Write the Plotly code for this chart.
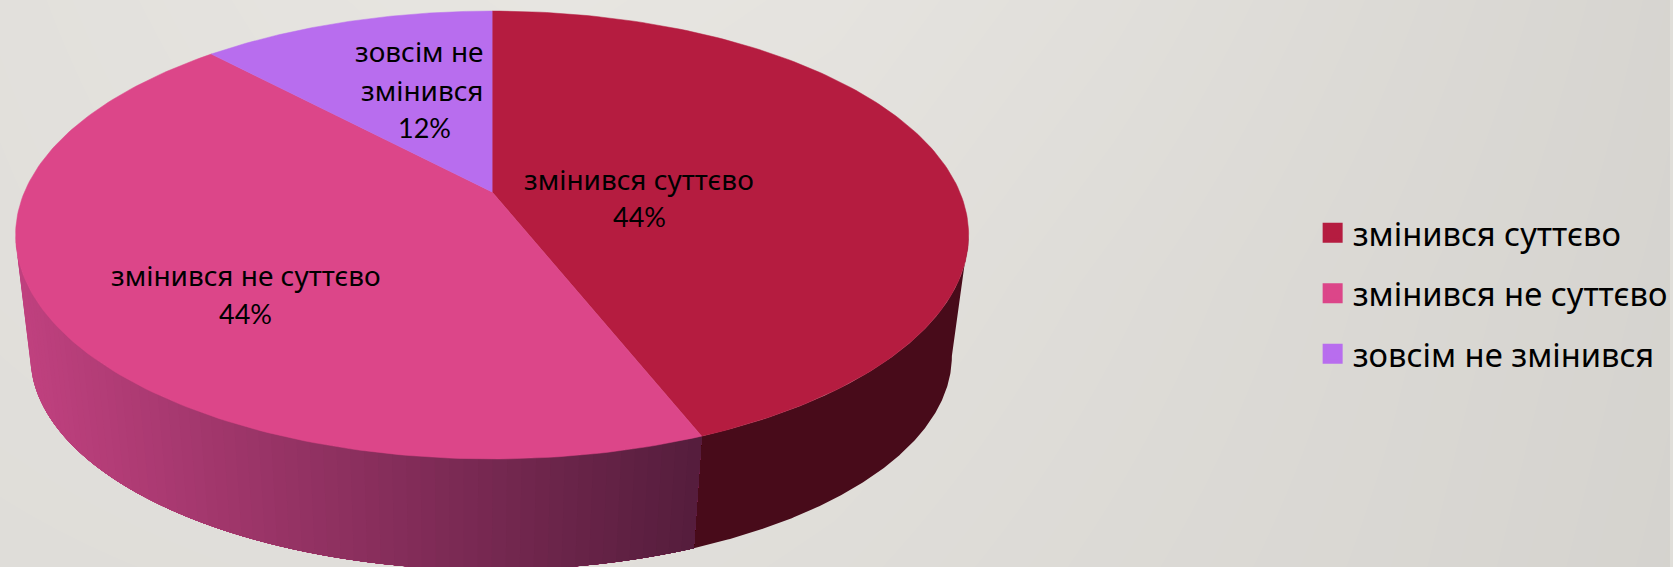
import numpy as np
import plotly.graph_objects as go

# Values
categories = ["змінився суттєво", "змінився не суттєво", "зовсім не змінився"]
percent = [44, 44, 12]
top_colors = ["#B51C40", "#DC4689", "#B86DEE"]

# Background tone, sampled coarsely over the slide (rows top to bottom)
bg_levels = [
    [228, 231, 233, 231, 227, 222, 217],
    [227, 229, 230, 228, 224, 220, 216],
    [225, 226, 227, 225, 222, 219, 215],
]

WIDTH, HEIGHT = 1673, 567
FONT = "Noto Sans"
PCT_FONT = "Lato"

# Pie projection in pixels: the apex sits above the ellipse centre (perspective)
CX, CY, RX, RY = 493, 192, 468.5, 215.7
PERSP = -0.192
BOT_CX, BOT_CY, BOT_RX, BOT_RY = 492, 315, 453, 206

WALL_DARK = "#480B1A"
WALL_LEFT = (192, 65, 127)
WALL_RIGHT = (85, 29, 60)


def top_rim(theta):
    u, v = np.sin(theta), -np.cos(theta)
    d = 1 + PERSP * v
    return CX + RX * u / d, CY + RY * v / d


def bottom_rim(theta):
    u, v = np.sin(theta), -np.cos(theta)
    d = 1 + PERSP * v
    return BOT_CX + BOT_RX * u / d, BOT_CY + BOT_RY * v / d


def wall_piece(start, end, color):
    t = np.linspace(start, end, 200)
    xt, yt = top_rim(t)
    xb, yb = bottom_rim(t[::-1])
    return go.Scatter(
        x=np.r_[xt, xb], y=np.r_[yt, yb],
        mode="lines", fill="toself", fillcolor=color,
        line=dict(width=0),
        showlegend=False, hoverinfo="skip",
    )


fig = go.Figure()

# Background
fig.add_trace(go.Heatmap(
    z=bg_levels,
    x=np.linspace(0, WIDTH, len(bg_levels[0])),
    y=np.linspace(0, HEIGHT, len(bg_levels)),
    zsmooth="best",
    zmin=200, zmax=240,
    colorscale=[[0, "rgb(198,196,191)"], [1, "rgb(238,236,232)"]],
    showscale=False,
    hoverinfo="skip",
))

# Slice angles, clockwise from 12 o'clock
edges = np.radians(np.cumsum([0] + percent) * 3.6)
side_limit = np.arccos(PERSP)  # where the rim turns away from the viewer
left_limit = 2 * np.pi - side_limit

# Side wall of the first slice is flat
fig.add_trace(wall_piece(side_limit, edges[1], WALL_DARK))

# Second slice shades left to right; each band runs to the seam so no gaps show
x_left = top_rim(left_limit)[0]
x_seam = top_rim(edges[1])[0]
bounds = np.linspace(left_limit, edges[1], 71)
for a, b in zip(bounds[:-1], bounds[1:]):
    k = (top_rim((a + b) / 2)[0] - x_left) / (x_seam - x_left)
    rgb = [round(l + (r - l) * k) for l, r in zip(WALL_LEFT, WALL_RIGHT)]
    fig.add_trace(wall_piece(edges[1], a, "rgb({},{},{})".format(*rgb)))

# Top faces
for i, name in enumerate(categories):
    t = np.linspace(edges[i], edges[i + 1], 160)
    xr, yr = top_rim(t)
    fig.add_trace(go.Scatter(
        x=np.r_[CX, xr, CX], y=np.r_[CY, yr, CY],
        mode="lines", fill="toself", fillcolor=top_colors[i],
        line=dict(color=top_colors[i], width=0.5),
        name=name, showlegend=False, hoverinfo="skip",
    ))

# Legend keys
for i, name in enumerate(categories):
    fig.add_trace(go.Scatter(
        x=[None], y=[None], mode="markers", name=name, legendgroup=name,
        marker=dict(symbol="square", size=16, color=top_colors[i],
                    line=dict(color=top_colors[i], width=4)),
    ))

# Slice labels
label_lines = [[categories[0]], [categories[1]], ["зовсім не", "змінився"]]
line_pos = [[(640, 179)], [(246, 275)], [(420, 51), (423, 90)]]
pct_pos = [(641, 216), (246, 313), (425, 127)]
for i, lines in enumerate(label_lines):
    for text, (x, y) in zip(lines, line_pos[i]):
        fig.add_annotation(x=x, y=y, text=text, showarrow=False,
                           font=dict(family=FONT, size=28, color="#000000"))
    fig.add_annotation(x=pct_pos[i][0], y=pct_pos[i][1], text=f"{percent[i]}%", showarrow=False,
                       font=dict(family=PCT_FONT, size=27, color="#000000"))

fig.update_layout(
    width=WIDTH, height=HEIGHT,
    margin=dict(l=0, r=0, t=0, b=0),
    paper_bgcolor="#E0DED9", plot_bgcolor="#E0DED9",
    xaxis=dict(range=[0, WIDTH], visible=False, fixedrange=True),
    yaxis=dict(range=[HEIGHT, 0], visible=False, fixedrange=True),
    legend=dict(
        x=1315 / WIDTH, y=1 - 205 / HEIGHT, xanchor="left", yanchor="top",
        font=dict(family=FONT, size=32.7, color="#000000"),
        bgcolor="rgba(0,0,0,0)", itemsizing="trace", itemwidth=30,
        tracegroupgap=15, traceorder="grouped",
    ),
)

fig.write_html("out.html", config=dict(displayModeBar=False),
               post_script="document.body.style.margin='0';")
